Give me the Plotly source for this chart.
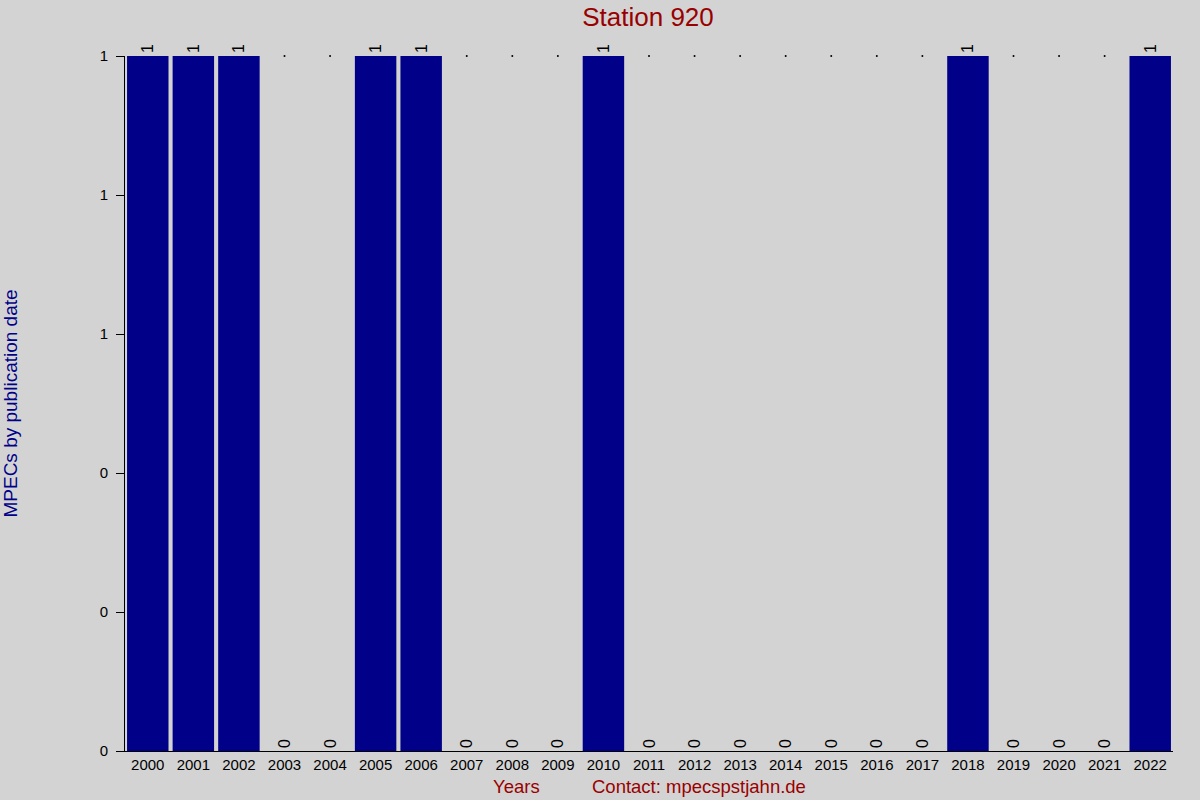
import plotly.graph_objects as go

years = [str(y) for y in range(2000, 2023)]
mpecs = [1, 1, 1, 0, 0, 1, 1, 0, 0, 0, 1, 0, 0, 0, 0, 0, 0, 0, 1, 0, 0, 0, 1]

y_ticks = [0, 0.2, 0.4, 0.6, 0.8, 1.0]

fig = go.Figure()

fig.add_trace(
    go.Bar(
        x=years,
        y=mpecs,
        marker_color='#000088',
        marker_line_width=0,
        text=[str(v) for v in mpecs],
        textposition='outside',
        textangle=-90,
        constraintext='none',
        textfont=dict(size=16, color='black'),
        cliponaxis=False,
    ))

# tiny dots at the top for empty years, as in the original
zero_years = [y for y, v in zip(years, mpecs) if v == 0]
fig.add_trace(
    go.Scatter(
        x=zero_years,
        y=[max(mpecs)] * len(zero_years),
        mode='markers',
        marker=dict(size=2, color='black'),
        hoverinfo='skip',
        cliponaxis=False,
    ))

fig.update_layout(
    width=1200, height=800,
    paper_bgcolor='#d3d3d3', plot_bgcolor='#d3d3d3',
    font=dict(family='Liberation Sans, Arial', size=15, color='black'),
    showlegend=False,
    bargap=0.09,
    margin=dict(l=125, r=27, t=56, b=49, autoexpand=False),
    title=dict(text='Station 920', x=0.54, xanchor='center', y=0.99, yanchor='top',
               font=dict(size=26, color='#990000')),
    annotations=[
        dict(text='MPECs by publication date', xref='paper', yref='paper', x=-0.1097, y=0.5,
             xanchor='center', yanchor='middle', textangle=-90, showarrow=False,
             font=dict(size=19, color='#000088')),
        dict(text='Years', xref='paper', yref='paper', x=0.374, y=-0.033, xanchor='center',
             yanchor='top', showarrow=False, font=dict(size=18.5, color='#990000')),
        dict(text='Contact: mpecspstjahn.de', xref='paper', yref='paper', x=0.5475, y=-0.033,
             xanchor='center', yanchor='top', showarrow=False,
             font=dict(size=18.5, color='#990000')),
    ],
)

fig.update_xaxes(showline=True, linecolor='black', linewidth=1, showgrid=False,
                 ticks='', tickfont=dict(size=15), automargin=False)
fig.update_yaxes(range=[0, 1], tickvals=y_ticks, tickformat='.0f', showline=True,
                 linecolor='black', linewidth=1, showgrid=False, zeroline=False,
                 ticks='outside', ticklen=8, tickcolor='black', tickfont=dict(size=15),
                 ticklabelstandoff=5, automargin=False)

fig.write_html("out.html", config={'displayModeBar': False},
               post_script="document.body.style.margin='0';")
